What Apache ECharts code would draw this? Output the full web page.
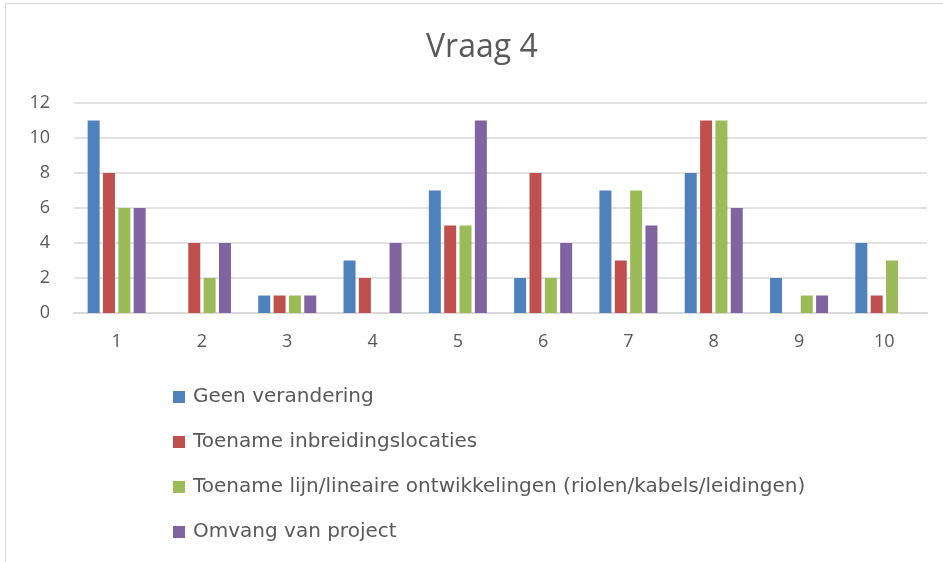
<!DOCTYPE html>
<html>
<head>
<meta charset="utf-8">
<script src="https://cdn.jsdelivr.net/npm/echarts@6/dist/echarts.min.js"></script>
<style>
  html, body { margin: 0; padding: 0; background: #fff; }
  #chart { width: 943px; height: 562px; }
</style>
</head>
<body>
<div id="chart"></div>
<script>
// categorieën (x-as)
const categories = ['1', '2', '3', '4', '5', '6', '7', '8', '9', '10']
// reeksen
const geenVerandering = [11, 0, 1, 3, 7, 2, 7, 8, 2, 4]
const toenameInbreiding = [8, 4, 1, 2, 5, 8, 3, 11, 0, 1]
const toenameLijn = [6, 2, 1, 0, 5, 2, 7, 11, 1, 3]
const omvangProject = [6, 4, 1, 4, 11, 4, 5, 6, 1, 0]
const seriesNames = [
  'Geen verandering',
  'Toename inbreidingslocaties',
  'Toename lijn/lineaire ontwikkelingen (riolen/kabels/leidingen)',
  'Omvang van project'
]

const textColor = '#595959'
const font = 'Open Sans'

const chart = echarts.init(document.getElementById('chart'))

const bar = (name, data, color) => ({
  name: name,
  type: 'bar',
  data: data,
  barCategoryGap: '32%',
  barGap: '28%',
  itemStyle: { color: color },
  silent: true
})

chart.setOption({
  animation: false,
  color: ['#4F81BD', '#C0504D', '#9BBB59', '#8064A2'],
  // lichte rand rond de grafiek
  graphic: [{
    type: 'rect',
    shape: { x: 5.5, y: 3.5, width: 1000, height: 1000 },
    style: { fill: 'none', stroke: '#D9D9D9', lineWidth: 1 }
  }],
  title: {
    text: 'Vraag 4',
    left: 421,
    top: 27,
    textStyle: { color: textColor, fontFamily: font, fontSize: 32, fontWeight: 'normal' }
  },
  legend: {
    orient: 'vertical',
    left: 168,
    top: 382,
    itemWidth: 12,
    itemHeight: 12,
    itemGap: 25,
    icon: 'rect',
    data: seriesNames,
    textStyle: { color: textColor, fontFamily: 'DejaVu Sans', fontSize: 20, padding: [0, 0, 0, 3] }
  },
  grid: {
    left: 74,
    right: 16,
    top: 103,
    bottom: 249
  },
  xAxis: {
    type: 'category',
    data: categories,
    axisLine: { lineStyle: { color: '#D9D9D9', width: 2 } },
    axisTick: { show: false },
    axisLabel: { color: textColor, fontFamily: font, fontSize: 18, margin: 20 }
  },
  yAxis: {
    type: 'value',
    min: 0,
    max: 12,
    interval: 2,
    axisLine: { show: false },
    axisTick: { show: false },
    splitLine: { lineStyle: { color: '#D9D9D9', width: 1.5 } },
    axisLabel: { color: textColor, fontFamily: font, fontSize: 18, margin: 24 }
  },
  series: [
    bar(seriesNames[0], geenVerandering, '#4F81BD'),
    bar(seriesNames[1], toenameInbreiding, '#C0504D'),
    bar(seriesNames[2], toenameLijn, '#9BBB59'),
    bar(seriesNames[3], omvangProject, '#8064A2')
  ]
})
</script>
</body>
</html>
